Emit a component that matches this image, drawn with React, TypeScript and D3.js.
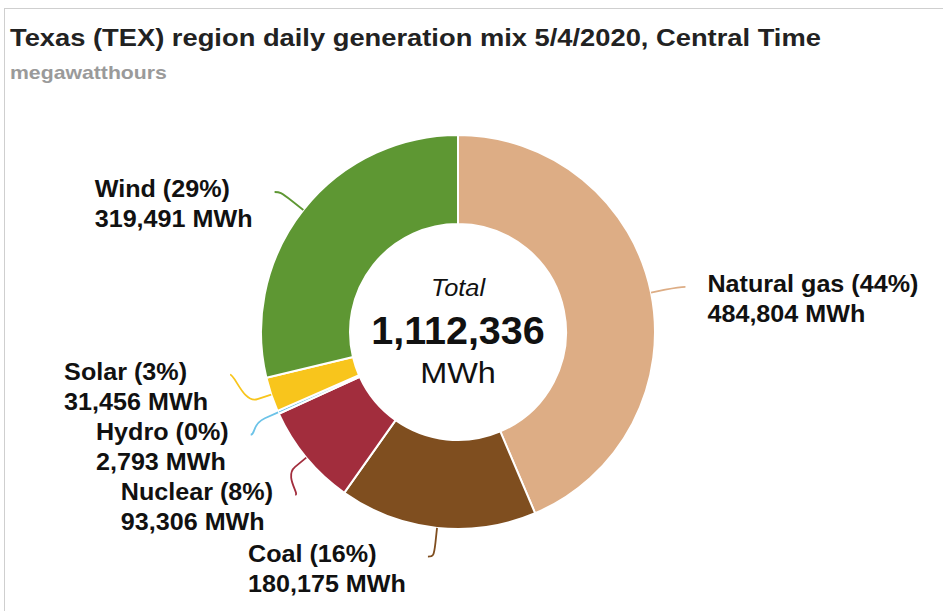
import React, { useEffect, useRef } from "react";
import * as d3 from "d3";

// generation by source, MWh (clockwise from top)
const sources = ["Natural gas", "Coal", "Nuclear", "Hydro", "Solar", "Wind"];
const values = [484804, 180175, 93306, 2793, 31456, 319491];
const colors = ["#ddad85", "#7f4e1f", "#a22d3d", "#6cc3e8", "#f8c51c", "#5e9733"];
const total = 1112336;

const title = "Texas (TEX) region daily generation mix 5/4/2020, Central Time";
const subtitle = "megawatthours";

const width = 943;
const height = 611;
const font = "'Liberation Sans', Arial, Helvetica, sans-serif";

function App() {
  const ref = useRef<SVGSVGElement>(null);

  useEffect(() => {
    const svg = d3.select(ref.current);
    svg.selectAll("*").remove();

    const cx = 458;
    const cy = 332;
    const R = 197;
    const r = 108;
    const dist = 29;
    const pad = 6;
    const fmt = d3.format(",");

    // frame
    svg.append("rect").attr("x", 4.5).attr("y", 8.5).attr("width", width + 10).attr("height", height + 10)
      .attr("fill", "#fff").attr("stroke", "#cfcfcf").attr("stroke-width", 1);

    svg.append("text").attr("transform", "translate(10,46) scale(1.115,1)").text(title)
      .attr("font-family", font).attr("font-weight", "bold").attr("font-size", 24.5).attr("fill", "#222");
    svg.append("text").attr("transform", "translate(10,79) scale(1.18,1)").text(subtitle)
      .attr("font-family", font).attr("font-weight", "bold").attr("font-size", 18).attr("fill", "#9a9a9a");

    const pie = d3.pie<number>().sort(null).value((d) => d);
    const arcs = pie(values);
    const arc = d3.arc<d3.PieArcDatum<number>>().innerRadius(r).outerRadius(R);

    const g = svg.append("g").attr("transform", `translate(${cx},${cy})`);
    g.selectAll("path").data(arcs).enter().append("path")
      .attr("d", arc)
      .attr("fill", (_, i) => colors[i])
      .attr("stroke", "#fff")
      .attr("stroke-width", 2)
      .attr("stroke-linejoin", "round");

    // label positions
    const r0 = R + dist;
    const labels = arcs.map((a, i) => {
      const mid = (a.startAngle + a.endAngle) / 2;
      return {
        i,
        mid,
        left: mid > Math.PI,
        x: cx + r0 * Math.sin(mid),
        y: cy - r0 * Math.cos(mid),
        moved: false,
      };
    });

    // push overlapping labels apart on each side
    const minGap = 60;
    [true, false].forEach((side) => {
      const grp = labels.filter((l) => l.left === side).sort((a, b) => a.y - b.y);
      for (let it = 0; it < 300; it++) {
        for (let k = 0; k < grp.length - 1; k++) {
          const d = minGap - (grp[k + 1].y - grp[k].y);
          if (d > 0.01) {
            grp[k].y -= d / 2;
            grp[k + 1].y += d / 2;
            grp[k].moved = true;
            grp[k + 1].moved = true;
          }
        }
      }
      grp.forEach((l) => {
        if (l.moved) {
          const dy = l.y - cy;
          const dx = Math.sqrt(Math.max(0, r0 * r0 - dy * dy));
          l.x = cx + (l.left ? -dx : dx);
        }
        l.x += l.left ? -pad : pad;
      });
    });

    const textGap = 22;
    const sx = 1.07;
    labels.forEach((l) => {
      const col = colors[l.i];
      const tx = cx + R * Math.sin(l.mid);
      const ty = cy - R * Math.cos(l.mid);
      const bx = cx + (R + dist / 2) * Math.sin(l.mid);
      const by = cy - (R + dist / 2) * Math.cos(l.mid);
      const c1x = l.x + (l.left ? 5 : -5);
      const path = `M${l.x},${l.y}C${c1x},${l.y} ${2 * bx - tx},${2 * by - ty} ${bx},${by}L${tx},${ty}`;
      svg.append("path").attr("d", path).attr("fill", "none").attr("stroke", col).attr("stroke-width", 1.8);

      const pct = Math.round((values[l.i] / total) * 100);
      const lines = [`${sources[l.i]} (${pct}%)`, `${fmt(values[l.i])} MWh`];
      const texts = lines.map((s) =>
        svg.append("text").text(s)
          .attr("font-family", font).attr("font-weight", "bold")
          .attr("font-size", 23.5).attr("fill", "#111")
      );
      const w = (d3.max(texts, (t) => (t.node() as SVGTextElement).getComputedTextLength()) || 0) * sx;
      const x0 = l.left ? l.x - textGap - w : l.x + textGap;
      texts.forEach((t, j) => t.attr("transform", `translate(${x0},${l.y + 5 + j * 30}) scale(${sx},1)`));
    });

    // centre total
    const c = svg.append("g").attr("font-family", font).attr("text-anchor", "middle").attr("fill", "#111");
    c.append("text").attr("transform", `translate(${cx},296) scale(1.08,1)`).text("Total")
      .attr("font-style", "italic").attr("font-size", 23.5);
    c.append("text").attr("x", cx).attr("y", 344).text(fmt(total))
      .attr("font-weight", "bold").attr("font-size", 39.5);
    c.append("text").attr("transform", `translate(${cx},383) scale(1.08,1)`).text("MWh")
      .attr("font-size", 30);
  }, []);

  return (
    <svg
      ref={ref}
      width={width}
      height={height}
      style={{ position: "absolute", left: 0, top: 0, background: "#fff" }}
    />
  );
}

export default App;
